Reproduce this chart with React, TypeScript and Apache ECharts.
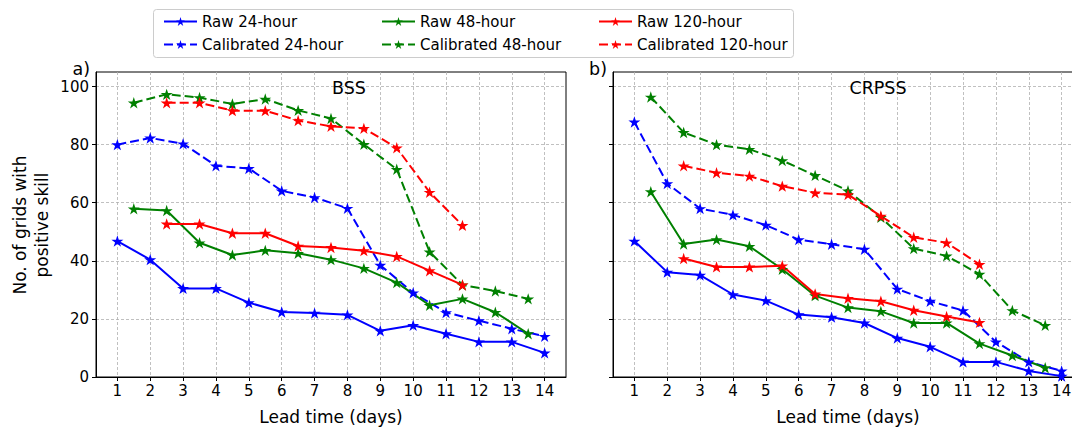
import React, { useEffect, useRef } from "react";
import * as echarts from "echarts";

const FONT = "DejaVu Sans";

const days24 = [1, 2, 3, 4, 5, 6, 7, 8, 9, 10, 11, 12, 13, 14];
const days48 = [1.5, 2.5, 3.5, 4.5, 5.5, 6.5, 7.5, 8.5, 9.5, 10.5, 11.5, 12.5, 13.5];
const days120 = [2.5, 3.5, 4.5, 5.5, 6.5, 7.5, 8.5, 9.5, 10.5, 11.5];

const xTicks = [1, 2, 3, 4, 5, 6, 7, 8, 9, 10, 11, 12, 13, 14];
const yTicks = [0, 20, 40, 60, 80, 100];

// BSS panel
const bssRaw24 = [46.8, 40.4, 30.5, 30.5, 25.6, 22.4, 22.0, 21.4, 15.9, 17.8, 14.9, 12.1, 12.1, 8.3];
const bssCal24 = [80.0, 82.3, 80.3, 72.7, 71.8, 64.1, 61.8, 58.1, 38.5, 29.0, 22.2, 19.4, 16.6, 14.0];
const bssRaw48 = [57.9, 57.3, 46.2, 42.0, 43.6, 42.6, 40.4, 37.4, 32.5, 24.7, 26.9, 22.3, 14.9];
const bssCal48 = [94.4, 97.3, 96.2, 94.0, 95.7, 91.8, 89.0, 80.1, 71.5, 43.1, 31.7, 29.6, 26.9];
const bssRaw120 = [52.7, 52.7, 49.5, 49.5, 45.1, 44.6, 43.5, 41.5, 36.6, 31.7];
const bssCal120 = [94.4, 94.4, 91.7, 91.7, 88.3, 86.3, 85.6, 78.9, 63.6, 52.2];

// CRPSS panel
const crpssRaw24 = [46.8, 36.1, 35.1, 28.4, 26.3, 21.5, 20.6, 18.6, 13.4, 10.4, 5.2, 5.2, 2.1, 0.3];
const crpssCal24 = [87.8, 66.6, 58.0, 55.8, 52.3, 47.3, 45.7, 44.0, 30.3, 26.1, 22.9, 12.1, 5.2, 2.1];
const crpssRaw48 = [63.8, 45.8, 47.3, 45.0, 37.1, 28.0, 23.9, 22.6, 18.6, 18.6, 11.5, 7.4, 3.2];
const crpssCal48 = [96.4, 84.2, 80.0, 78.4, 74.5, 69.4, 64.1, 55.0, 44.2, 41.7, 35.4, 22.9, 17.8];
const crpssRaw120 = [40.8, 37.9, 37.9, 38.3, 28.6, 27.1, 26.1, 23.0, 20.8, 18.8];
const crpssCal120 = [72.7, 70.3, 69.2, 65.7, 63.4, 62.8, 55.4, 48.1, 46.2, 38.8];

const BLUE = "#0000ff";
const GREEN = "#008000";
const RED = "#ff0000";

const STAR =
  "path://M0 -1 L0.2245 -0.309 L0.9511 -0.309 L0.3633 0.118 L0.5878 0.809 L0 0.382 L-0.5878 0.809 L-0.3633 0.118 L-0.9511 -0.309 L-0.2245 -0.309 Z";

function mk(name: string, xs: number[], ys: number[], color: string, dashed: boolean, gi: number) {
  return {
    type: "line",
    name,
    xAxisIndex: gi,
    yAxisIndex: gi,
    data: xs.map((x, i) => [x, ys[i]]),
    symbol: STAR,
    symbolSize: 12,
    symbolKeepAspect: true,
    lineStyle: { color, width: 2, type: dashed ? [9, 4] : "solid" },
    itemStyle: { color },
    emphasis: { disabled: true },
    silent: true,
  };
}

function xAxis(gi: number) {
  return {
    type: "value",
    gridIndex: gi,
    min: 0.35,
    max: 14.65,
    axisLine: { show: true, onZero: false, lineStyle: { color: "#000", width: 1 } },
    axisTick: { show: true, customValues: xTicks, length: 4, lineStyle: { color: "#000", width: 1 } },
    axisLabel: { customValues: xTicks, fontSize: 15, color: "#000", margin: 6, fontFamily: FONT },
    splitLine: { show: true, lineStyle: { color: "#b0b0b0", width: 0.8, type: [3, 2] } },
    name: "Lead time (days)",
    nameLocation: "middle",
    nameGap: 31,
    nameTextStyle: { fontSize: 17, color: "#000", fontFamily: FONT },
  };
}

function yAxis(gi: number, showLabels: boolean) {
  return {
    type: "value",
    gridIndex: gi,
    min: 0,
    max: 105,
    interval: 20,
    axisLine: { show: true, lineStyle: { color: "#000", width: 1 } },
    axisTick: { show: true, customValues: yTicks, length: 4, lineStyle: { color: "#000", width: 1 } },
    axisLabel: {
      show: showLabels,
      customValues: yTicks,
      fontSize: 15,
      color: "#000",
      margin: 7,
      fontFamily: FONT,
    },
    splitLine: { show: true, lineStyle: { color: "#b0b0b0", width: 0.8, type: [3, 2] } },
  };
}

function legend(left: number, names: string[]) {
  return {
    data: names,
    left,
    top: 9,
    orient: "vertical",
    itemWidth: 33,
    itemHeight: 11,
    itemGap: 8,
    selectedMode: false,
    z: 10,
    textStyle: { fontSize: 15, lineHeight: 15, color: "#000", fontFamily: FONT },
  };
}

function label(text: string, x: number, y: number, align: string) {
  return {
    type: "text",
    x,
    y,
    z: 10,
    style: {
      text,
      fontSize: 17.5,
      fontFamily: FONT,
      font: `17.5px "${FONT}"`,
      align,
      verticalAlign: "middle",
      fill: "#000",
    },
  };
}

export default function App() {
  const ref = useRef<HTMLDivElement>(null);
  useEffect(() => {
    if (!ref.current) return;
    const chart = echarts.init(ref.current, undefined, { renderer: "svg" });
    chart.setOption({
      animation: false,
      backgroundColor: "#fff",
      textStyle: { fontFamily: FONT },
      grid: [
        { left: 96, top: 72, width: 470, height: 307, show: true, borderColor: "#000", borderWidth: 1 },
        { left: 613, top: 72, width: 470, height: 307, show: true, borderColor: "#000", borderWidth: 1 },
      ],
      xAxis: [xAxis(0), xAxis(1)],
      yAxis: [yAxis(0, true), yAxis(1, false)],
      legend: [
        legend(158, ["Raw 24-hour", "Calibrated 24-hour"]),
        legend(376, ["Raw 48-hour", "Calibrated 48-hour"]),
        legend(593, ["Raw 120-hour", "Calibrated 120-hour"]),
      ],
      graphic: [
        {
          type: "rect",
          z: 0,
          shape: { x: 153.5, y: 9.5, width: 640, height: 48, r: 3 },
          style: { fill: "#fff", stroke: "#cccccc", lineWidth: 1 },
        },
        {
          type: "text",
          x: 31,
          y: 225,
          rotation: Math.PI / 2,
          style: {
            text: "No. of grids with\npositive skill",
            fontSize: 17,
            lineHeight: 22,
            align: "center",
            verticalAlign: "middle",
            fill: "#000",
            fontFamily: FONT,
          },
        },
        label("a)", 90, 69, "right"),
        label("b)", 607, 69, "right"),
        label("BSS", 349, 88, "center"),
        label("CRPSS", 878, 88, "center"),
      ],
      series: [
        mk("Raw 24-hour", days24, bssRaw24, BLUE, false, 0),
        mk("Calibrated 24-hour", days24, bssCal24, BLUE, true, 0),
        mk("Raw 48-hour", days48, bssRaw48, GREEN, false, 0),
        mk("Calibrated 48-hour", days48, bssCal48, GREEN, true, 0),
        mk("Raw 120-hour", days120, bssRaw120, RED, false, 0),
        mk("Calibrated 120-hour", days120, bssCal120, RED, true, 0),
        mk("Raw 24-hour", days24, crpssRaw24, BLUE, false, 1),
        mk("Calibrated 24-hour", days24, crpssCal24, BLUE, true, 1),
        mk("Raw 48-hour", days48, crpssRaw48, GREEN, false, 1),
        mk("Calibrated 48-hour", days48, crpssCal48, GREEN, true, 1),
        mk("Raw 120-hour", days120, crpssRaw120, RED, false, 1),
        mk("Calibrated 120-hour", days120, crpssCal120, RED, true, 1),
      ],
    } as any);
    return () => chart.dispose();
  }, []);
  return (
    <div
      style={{ position: "absolute", left: 0, top: 0, width: 1072, height: 430, overflow: "hidden", background: "#fff" }}
    >
      <div ref={ref} style={{ width: 1100, height: 430 }} />
    </div>
  );
}
